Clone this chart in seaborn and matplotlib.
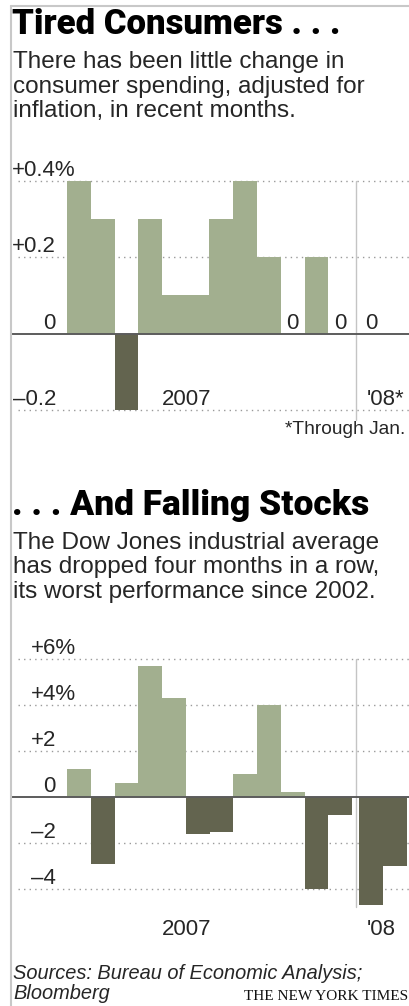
import numpy as np
import pandas as pd
import matplotlib
matplotlib.use("Agg")
import matplotlib.pyplot as plt
import seaborn as sns
from matplotlib.lines import Line2D
from matplotlib.transforms import offset_copy

# ---------------- data ----------------
spend_months = ["2007-01", "2007-02", "2007-03", "2007-04", "2007-05", "2007-06",
                "2007-07", "2007-08", "2007-09", "2007-10", "2007-11", "2007-12",
                "2008-01"]
spend_values = [0.4, 0.3, -0.2, 0.3, 0.1, 0.1, 0.3, 0.4, 0.2, 0.0, 0.2, 0.0, 0.0]
spend_ticks = [0.4, 0.2, 0.0, -0.2]
spend_tick_labels = ["+0.4%", "+0.2", "0", "\u20130.2"]

dow_months = ["2007-01", "2007-02", "2007-03", "2007-04", "2007-05", "2007-06",
              "2007-07", "2007-08", "2007-09", "2007-10", "2007-11", "2007-12",
              "2008-01", "2008-02"]
dow_values = [1.2, -2.9, 0.6, 5.7, 4.3, -1.6, -1.5, 1.0, 4.0, 0.2, -4.0, -0.8, -4.7, -3.0]
dow_ticks = [6, 4, 2, 0, -2, -4]
dow_tick_labels = ["+6%", "+4%", "+2", "0", "\u20132", "\u20134"]

title1 = "Tired Consumers . . ."
sub1 = ["There has been little change in",
        "consumer spending, adjusted for",
        "inflation, in recent months."]
note1 = "*Through Jan."
title2 = ". . . And Falling Stocks"
sub2 = ["The Dow Jones industrial average",
        "has dropped four months in a row,",
        "its worst performance since 2002."]
source_lines = ["Sources: Bureau of Economic Analysis;", "Bloomberg"]
credit = "THE NEW YORK TIMES"

# ---------------- style ----------------
sns.set_style("white")
plt.rcParams["font.family"] = ["Liberation Sans", "DejaVu Sans"]

LIGHT = "#a2af8f"
DARK = "#63644f"
GRID = "#9a9a9a"
ZERO = "#5c5c5c"
SEP = "#c4c4c4"
TXT = "#262626"
FS_TICK = 16

W, H = 410, 1006
fig = plt.figure(figsize=(W / 100, H / 100), dpi=100)
fig.patch.set_facecolor("white")

YEAR_GAP = 0.3


def positions(months):
    out = []
    for m in months:
        y, mo = m.split("-")
        y, mo = int(y), int(mo)
        out.append((y - 2007) * (12 + YEAR_GAP) + (mo - 1))
    return np.array(out, dtype=float)


def px2x(px):
    return (px - 67) / 23.75 - 0.5


def fx(px):
    return px / W


def fy(py):
    return 1 - py / H


renderer = fig.canvas.get_renderer()


def draw_chart(ax, months, values, ticks, labels, ylim, sep_span, year_y, late_label):
    pos = positions(months)
    vals = np.array(values, dtype=float)
    df = pd.DataFrame({"pos": pos, "value": vals,
                       "sign": np.where(vals >= 0, "up", "down")})
    sns.barplot(data=df, x="pos", y="value", hue="sign",
                palette={"up": LIGHT, "down": DARK}, native_scale=True,
                width=1, dodge=False, legend=False, errorbar=None,
                saturation=1, linewidth=0, antialiased=False, zorder=2, ax=ax)
    ax.set_xlim(px2x(12), px2x(410))
    ax.set_ylim(*ylim)
    ax.axis("off")
    # gridlines
    for v in ticks:
        if v != 0:
            ax.axhline(v, xmin=(18 - 12) / 398, xmax=1, color=GRID, lw=1,
                       linestyle=(0, (1, 3)), zorder=1)
    ax.axhline(0, color=ZERO, lw=1.4, zorder=3)
    # year separator
    sep_x = 11.5 + YEAR_GAP / 2
    ax.plot([sep_x, sep_x], sep_span, color=SEP, lw=1, zorder=1)
    # tick labels (above gridlines)
    xlab = px2x(56)
    for v, lab in zip(ticks, labels):
        dx = 0
        if lab.endswith("%"):
            tmp = fig.text(0, 0, "%", fontsize=FS_TICK)
            dx = tmp.get_window_extent(renderer).width
            tmp.remove()
        tr = offset_copy(ax.transData, fig=fig, x=dx, y=5, units="dots")
        ax.text(xlab, v, lab, ha="right", va="baseline", transform=tr,
                fontsize=FS_TICK, color=TXT, zorder=5)
    # zero-value labels
    tr0 = offset_copy(ax.transData, fig=fig, x=0, y=5, units="dots")
    for p, v in zip(pos, vals):
        if v == 0:
            ax.text(p, 0, "0", ha="center", va="baseline", transform=tr0,
                    fontsize=FS_TICK, color=TXT, zorder=5)
    # year labels
    ax.text(px2x(187), year_y, "2007", ha="center", va="baseline",
            transform=tr0 if year_y == ticks[-1] else ax.transData,
            fontsize=FS_TICK, color=TXT)
    ax.text(px2x(367), year_y, late_label, ha="left", va="baseline",
            transform=tr0 if year_y == ticks[-1] else ax.transData,
            fontsize=FS_TICK, color=TXT)


# ---------- chart 1 ----------
ax1 = fig.add_axes([fx(12), fy(425), 398 / W, 275 / H])
s1 = 76.4 / 0.2  # px per unit
draw_chart(ax1, spend_months, spend_values, spend_ticks, spend_tick_labels,
           ylim=(-0.2 - (425 - 410) / s1, 0.4 + (181 - 150) / s1),
           sep_span=[0.4, -0.2 - 10 / s1], year_y=-0.2, late_label="'08*")

# ---------- chart 2 ----------
ax2 = fig.add_axes([fx(12), fy(915), 398 / W, 285 / H])
s2 = 23.0
draw_chart(ax2, dow_months, dow_values, dow_ticks, dow_tick_labels,
           ylim=(-(915 - 797) / s2, (797 - 630) / s2),
           sep_span=[6, -4.78], year_y=-6.0, late_label="'08")

# ---------- texts ----------
TITLE_FONT = ["Roboto", "Liberation Sans", "DejaVu Sans"]
fig.text(fx(12), fy(34), title1, fontsize=25, fontweight="black", color="black",
         family=TITLE_FONT, va="baseline", ha="left")
for i, line in enumerate(sub1):
    fig.text(fx(13), fy(68 + 24.5 * i), line, fontsize=17.5, color=TXT,
             va="baseline", ha="left")
fig.text(fx(405), fy(434), note1, fontsize=13.8, color=TXT, va="baseline", ha="right")

fig.text(fx(12), fy(515), title2, fontsize=25.5, fontweight="black", color="black",
         family=TITLE_FONT, va="baseline", ha="left")
for i, line in enumerate(sub2):
    fig.text(fx(13), fy(549 + 24.5 * i), line, fontsize=17.5, color=TXT,
             va="baseline", ha="left")

fig.text(fx(13), fy(979), source_lines[0], fontsize=14.4, style="italic",
         color=TXT, va="baseline", ha="left")
fig.text(fx(13), fy(999), source_lines[1], fontsize=14.4, style="italic",
         color=TXT, va="baseline", ha="left")
fig.text(fx(408), fy(1000), credit, fontsize=11, family=["Liberation Serif", "DejaVu Serif"],
         color="#111111", va="baseline", ha="right")

# ---------- frame ----------
fig.add_artist(Line2D([fx(11.5), fx(11.5)], [0, fy(6)], transform=fig.transFigure,
                      color="#c8c8c8", lw=1.5))
fig.add_artist(Line2D([fx(11.5), 1], [fy(6), fy(6)], transform=fig.transFigure,
                      color="#c8c8c8", lw=1.5))

fig.savefig("out.png", dpi=100, facecolor="white")
